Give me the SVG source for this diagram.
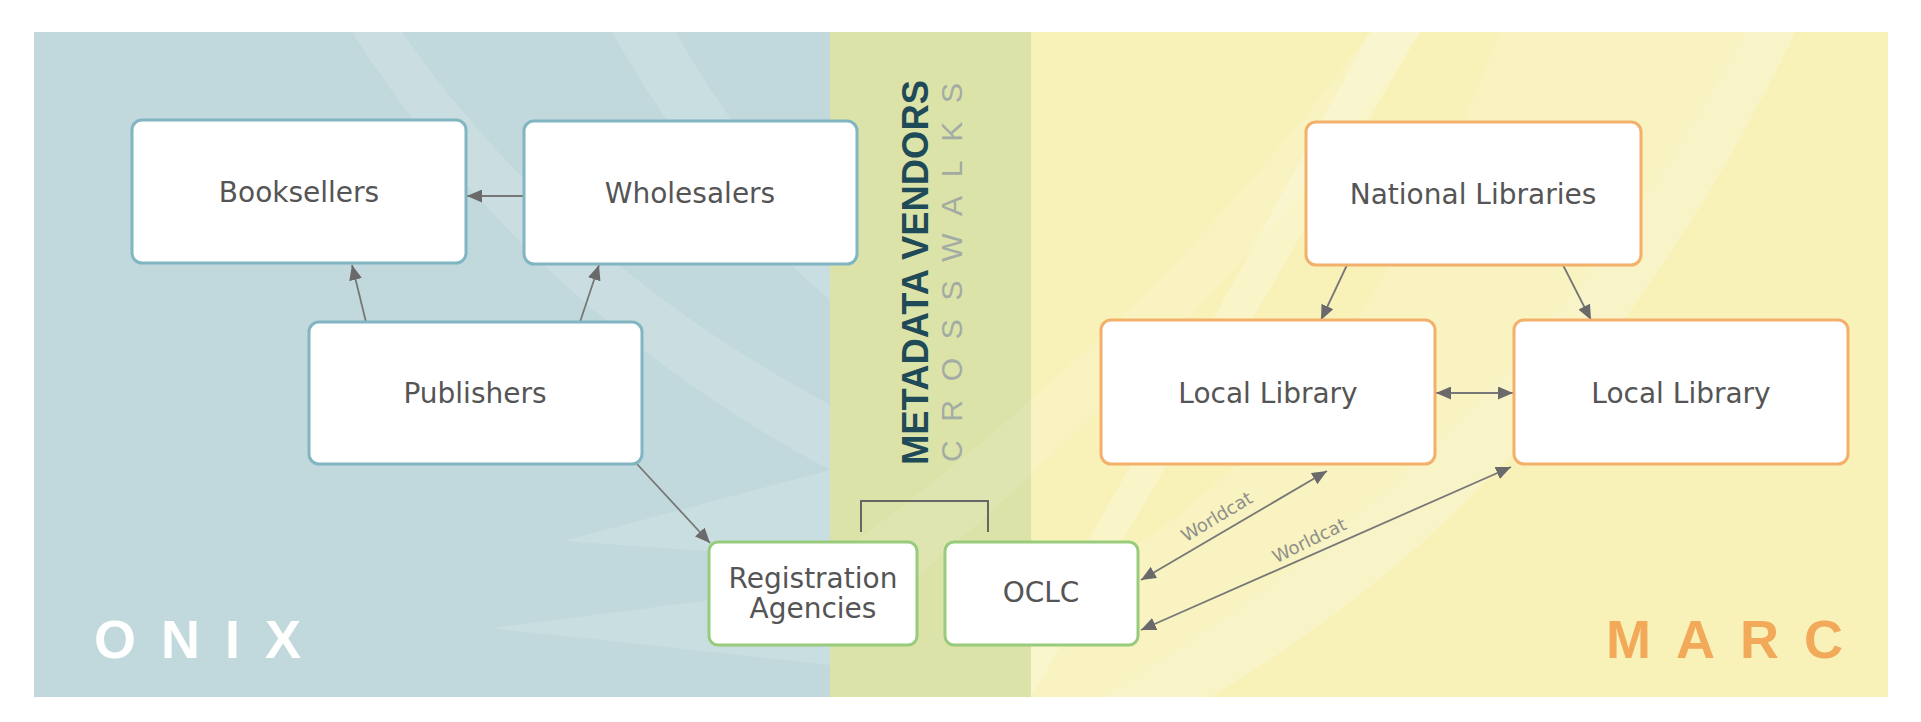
<svg xmlns="http://www.w3.org/2000/svg" width="1921" height="722" viewBox="0 0 1921 722">
  <defs>
    <marker id="ah" viewBox="0 0 15 13" refX="15" refY="6.5" markerWidth="15" markerHeight="13" markerUnits="userSpaceOnUse" orient="auto-start-reverse">
      <path d="M0,0 L15,6.5 L0,13 Z" fill="#6a6a6a"/>
    </marker>
    <clipPath id="panel"><rect x="34" y="32" width="1854" height="665"/></clipPath>
  </defs>
  <style>
    .box { fill: #ffffff; stroke-width: 3; }
    .onix { stroke: #80b5c1; }
    .marc { stroke: #f3b06a; }
    .mid { stroke: #98cb7c; }
    .lbl { font-family: "DejaVu Sans", "Liberation Sans", sans-serif; font-size: 28px; fill: #555555; text-anchor: middle; }
    .conn { stroke: #777777; stroke-width: 1.8; fill: none; }
    .wc { font-family: "DejaVu Sans", "Liberation Sans", sans-serif; font-size: 18px; fill: #8f8f8a; text-anchor: middle; }
    .big { font-family: "Liberation Sans", Arial, sans-serif; font-weight: bold; font-size: 54px; letter-spacing: 25px; }
    .sw { fill: #ffffff; }
  </style>

  <rect width="1921" height="722" fill="#ffffff"/>

  <g id="background">
    <rect x="34" y="32" width="796" height="665" fill="#c1d9dc"/>
    <rect x="830" y="32" width="201" height="665" fill="#dce3a9"/>
    <rect x="1031" y="32" width="857" height="665" fill="#f8f2b9"/>
    <g clip-path="url(#panel)">
      <path class="sw" opacity="0.15" d="M352,32 L402,32 Q560,260 830,405 L830,470 Q530,310 352,32 Z"/>
      <path class="sw" opacity="0.14" d="M612,32 L676,32 Q740,150 830,225 L830,300 Q700,190 612,32 Z"/>
      <path class="sw" opacity="0.13" d="M563,541 L830,470 L830,560 Z"/>
      <path class="sw" opacity="0.13" d="M490,628 L830,585 L830,665 Z"/>
      <path class="sw" opacity="0.10" d="M830,560 Q1150,330 1370,32 L1420,32 Q1220,330 830,650 Z"/>
      <path class="sw" opacity="0.22" d="M1031,640 Q1210,330 1370,32 L1420,32 Q1240,340 1031,697 Z"/>
      <path class="sw" opacity="0.2" d="M1100,697 Q1520,450 1745,32 L1795,32 Q1580,480 1210,697 Z"/>
      <path class="sw" opacity="0.1" d="M1031,600 Q1330,480 1500,32 L1745,32 Q1520,450 1100,697 L1031,697 Z"/>
    </g>
  </g>

  <g id="section-labels">
    <text class="big" x="94" y="658" fill="#ffffff">ONIX</text>
    <text class="big" x="1606" y="658" fill="#f2a95a">MARC</text>
    <text transform="translate(928,465) rotate(-90)" font-family="Liberation Sans, Arial, sans-serif" font-weight="bold" font-size="37" fill="#1f4a57" textLength="385" lengthAdjust="spacingAndGlyphs">METADATA VENDORS</text>
    <text transform="translate(962,462) rotate(-90)" font-family="Liberation Sans, Arial, sans-serif" font-size="30" fill="#a2aba4" letter-spacing="18.7">CROSSWALKS</text>
  </g>

  <g id="connectors">
    <line class="conn" x1="524" y1="196" x2="467" y2="196" marker-end="url(#ah)"/>
    <line class="conn" x1="366" y1="322" x2="352" y2="265" marker-end="url(#ah)"/>
    <line class="conn" x1="580" y1="322" x2="599" y2="265" marker-end="url(#ah)"/>
    <line class="conn" x1="637" y1="464" x2="710" y2="543" marker-end="url(#ah)"/>
    <line class="conn" x1="1347" y1="265" x2="1321" y2="320" marker-end="url(#ah)"/>
    <line class="conn" x1="1563" y1="265" x2="1591" y2="320" marker-end="url(#ah)"/>
    <line class="conn" x1="1436" y1="393" x2="1513" y2="393" marker-start="url(#ah)" marker-end="url(#ah)"/>
    <line class="conn" x1="1141" y1="580" x2="1327" y2="471" marker-start="url(#ah)" marker-end="url(#ah)"/>
    <line class="conn" x1="1141" y1="630" x2="1511" y2="467" marker-start="url(#ah)" marker-end="url(#ah)"/>
    <path d="M861,532 V501 H988 V532" stroke="#666666" stroke-width="2" fill="none"/>
    <text class="wc" transform="translate(1220,522) rotate(-31)">Worldcat</text>
    <text class="wc" transform="translate(1312,546) rotate(-26)">Worldcat</text>
  </g>

  <g id="booksellers">
    <rect class="box onix" x="132" y="120" width="334" height="143" rx="10"/>
    <text class="lbl" x="299" y="202">Booksellers</text>
  </g>
  <g id="wholesalers">
    <rect class="box onix" x="524" y="121" width="333" height="143" rx="10"/>
    <text class="lbl" x="690" y="203">Wholesalers</text>
  </g>
  <g id="publishers">
    <rect class="box onix" x="309" y="322" width="333" height="142" rx="10"/>
    <text class="lbl" x="475" y="403">Publishers</text>
  </g>
  <g id="registration-agencies">
    <rect class="box mid" x="709" y="542" width="208" height="103" rx="9"/>
    <text class="lbl" x="813" y="588" font-size="27">Registration</text>
    <text class="lbl" x="813" y="618" font-size="27">Agencies</text>
  </g>
  <g id="oclc">
    <rect class="box mid" x="945" y="542" width="193" height="103" rx="9"/>
    <text class="lbl" x="1041" y="602">OCLC</text>
  </g>
  <g id="national-libraries">
    <rect class="box marc" x="1306" y="122" width="335" height="143" rx="10"/>
    <text class="lbl" x="1473" y="204">National Libraries</text>
  </g>
  <g id="local-library-1">
    <rect class="box marc" x="1101" y="320" width="334" height="144" rx="10"/>
    <text class="lbl" x="1268" y="403">Local Library</text>
  </g>
  <g id="local-library-2">
    <rect class="box marc" x="1514" y="320" width="334" height="144" rx="10"/>
    <text class="lbl" x="1681" y="403">Local Library</text>
  </g>
</svg>
